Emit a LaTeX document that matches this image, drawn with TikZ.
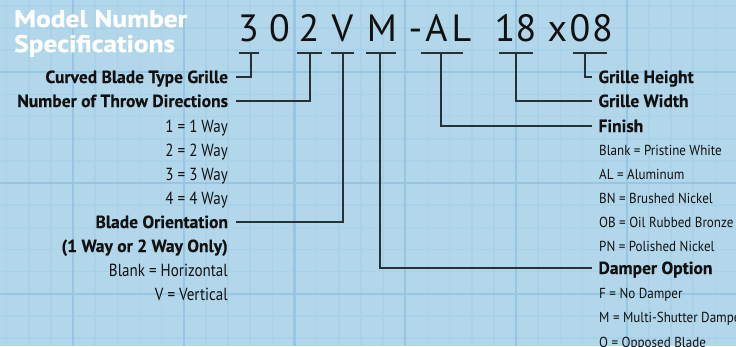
\documentclass[tikz,border=0pt]{standalone}
\usepackage{fontspec}
\setmainfont{PT Sans}
\newfontfamily\lblfont[FakeStretch=0.86]{PT Sans}
\newfontfamily\boldlbl[FakeStretch=1.0,FakeBold=0.4]{PT Sans Bold}
\newfontfamily\subfont[FakeStretch=0.9]{PT Sans}
\newfontfamily\titlefont[FakeStretch=1.14,FakeBold=0.8]{PT Sans Bold}
\newfontfamily\codefont{PT Sans}
\definecolor{bgblue}{RGB}{179,215,234}
\definecolor{minorc}{RGB}{169,209,231}
\definecolor{majorc}{RGB}{150,198,228}
\definecolor{linec}{RGB}{38,48,54}
\definecolor{txt}{RGB}{17,17,17}
\tikzset{
  minorgrid/.style={draw=minorc,line width=1.6pt},
  majorgrid/.style={draw=majorc,line width=2.2pt},
  conn/.style={draw=linec,line width=1.3pt},
  codech/.style={font=\codefont\fontsize{38}{38}\selectfont,text=txt,inner sep=0pt,anchor=base},
  leftlbl/.style={font=\boldlbl\fontsize{17.5}{17.5}\selectfont,text=txt,inner xsep=0pt,outer xsep=8pt,inner ysep=0pt,text height=12pt,text depth=0pt,anchor=east},
  leftsub/.style={font=\lblfont\fontsize{17.5}{17.5}\selectfont,text=txt,inner sep=0pt,anchor=base east},
  leftsubbold/.style={font=\boldlbl\fontsize{17.5}{17.5}\selectfont,text=txt,inner sep=0pt,anchor=base east},
  rightlbl/.style={font=\boldlbl\fontsize{17.5}{17.5}\selectfont,text=txt,inner xsep=0pt,outer xsep=6.5pt,inner ysep=0pt,text height=12pt,text depth=0pt,anchor=west},
  rightsub/.style={font=\subfont\fontsize{14.5}{14.5}\selectfont,text=txt,inner sep=0pt,anchor=base west},
  titletxt/.style={font=\titlefont\fontsize{24}{24}\selectfont,text=white,inner sep=0pt,anchor=base west}
}
\begin{document}
\begin{tikzpicture}[x=1pt,y=-1pt]
\fill[bgblue] (0,0) rectangle (736,346);
\useasboundingbox (0,0) rectangle (736,346);
% grid
\foreach \i in {0,...,33}{\pgfmathsetmacro\xx{6.55+22.15*\i}\draw[minorgrid] (\xx,0) -- (\xx,346);}
\foreach \i in {0,...,15}{\pgfmathsetmacro\yy{5.8+22.15*\i}\draw[minorgrid] (0,\yy) -- (736,\yy);}
\foreach \i in {0,...,6}{\pgfmathsetmacro\xx{73+110.75*\i}\draw[majorgrid] (\xx,0) -- (\xx,346);}
\foreach \i in {0,...,2}{\pgfmathsetmacro\yy{72.25+110.75*\i}\draw[majorgrid] (0,\yy) -- (736,\yy);}
% title
\node[titletxt] (t1) at (14,27) {Model Number};
\node[titletxt] (t2) at (14,52) {Specifications};
% model code
\node[codech] (c3) at (248.5,41) {3};
\node[codech] (c0) at (279.5,41) {0};
\node[codech] (c2) at (309,41) {2};
\node[codech] (cV) at (342.5,41) {V};
\node[codech] (cM) at (382,41) {M};
\node[codech] (cdash) at (415.5,41) {-};
\node[codech] (cA) at (436.5,41) {A};
\node[codech] (cL) at (461.5,41) {L};
\node[codech] (c1) at (505,41) {1};
\node[codech] (c8a) at (526,41) {8};
\node[codech] (cx) at (557.5,41) {x};
\node[codech] (c0b) at (580,41) {0};
\node[codech] (c8b) at (602.5,41) {8};
% underlines
\draw[conn] (239,53) -- (259,53);
\draw[conn] (297,53) -- (322,53);
\draw[conn] (331,53) -- (354,53);
\draw[conn] (366,53) -- (396,53);
\draw[conn] (421,53) -- (463,53);
\draw[conn] (499,53) -- (533,53);
\draw[conn] (573,53) -- (607,53);
\coordinate (j3) at (251,53);
\coordinate (j2) at (310,53);
\coordinate (jV) at (343,53);
\coordinate (jM) at (380,53);
\coordinate (jAL) at (441,53);
\coordinate (j18) at (516,53);
\coordinate (j08) at (585,53);
% left labels
\node[leftlbl] (curved) at (236,77) {Curved Blade Type Grille};
\node[leftlbl] (throw) at (236,101) {Number of Throw Directions};
\node[leftsub] (w1) at (228,132) {1 = 1 Way};
\node[leftsub] (w2) at (228,156) {2 = 2 Way};
\node[leftsub] (w3) at (228,180) {3 = 3 Way};
\node[leftsub] (w4) at (228,204) {4 = 4 Way};
\node[leftlbl] (blade) at (236,222) {Blade Orientation};
\node[leftsubbold] (only) at (228,252) {(1 Way or 2 Way Only)};
\node[leftsub] (bh) at (228,276) {Blank = Horizontal};
\node[leftsub] (vv) at (228,300) {V = Vertical};
% right labels
\node[rightlbl] (height) at (592,77) {Grille Height};
\node[rightlbl] (width) at (592,101) {Grille Width};
\node[rightlbl] (finish) at (592,126) {Finish};
\node[rightsub] (f1) at (599,155) {Blank = Pristine White};
\node[rightsub] (f2) at (599,179) {AL = Aluminum};
\node[rightsub] (f3) at (599,203) {BN = Brushed Nickel};
\node[rightsub] (f4) at (599,227) {OB = Oil Rubbed Bronze};
\node[rightsub] (f5) at (599,251) {PN = Polished Nickel};
\node[rightlbl] (damper) at (592,268) {Damper Option};
\node[rightsub] (d1) at (599,298) {F = No Damper};
\node[rightsub] (d2) at (599,322) {M = Multi-Shutter Damper};
\node[rightsub] (d3) at (599,347) {O = Opposed Blade};
% connectors
\draw[conn] (j3) |- (curved.east);
\draw[conn] (j2) |- (throw.east);
\draw[conn] (jV) |- (blade.east);
\draw[conn] (jM) |- (damper.west);
\draw[conn] (jAL) |- (finish.west);
\draw[conn] (j18) |- (width.west);
\draw[conn] (j08) |- (height.west);
\end{tikzpicture}
\end{document}
